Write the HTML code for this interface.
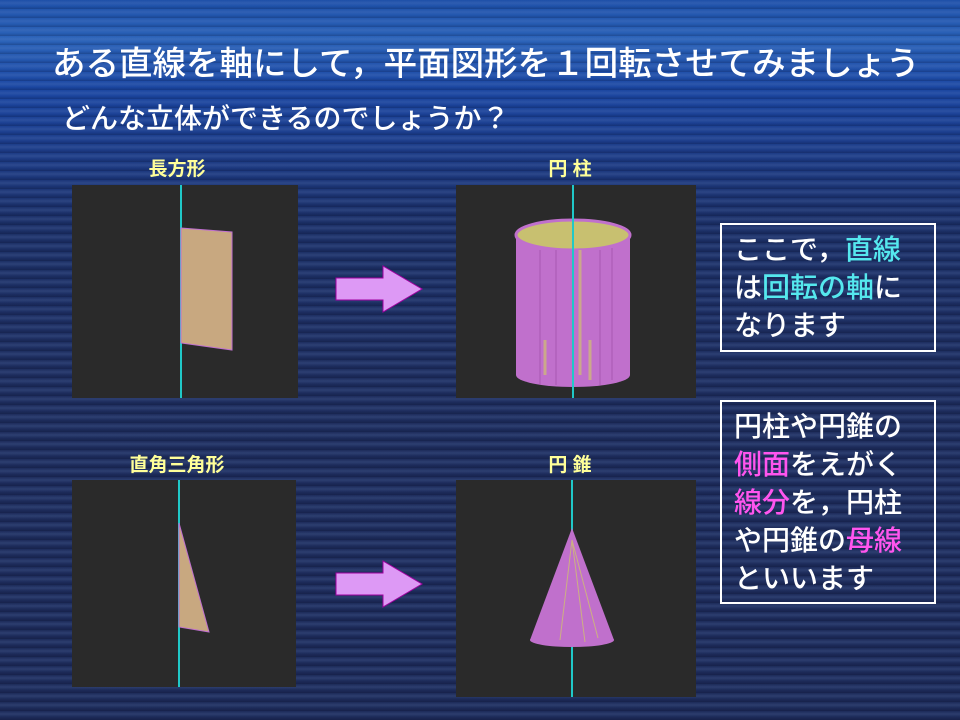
<!DOCTYPE html>
<html><head><meta charset="utf-8"><style>
html,body{margin:0;padding:0}
body{width:960px;height:720px;position:relative;overflow:hidden;font-family:"Liberation Sans","Noto Sans CJK JP",sans-serif;
background:
repeating-linear-gradient(180deg,rgba(255,255,255,0.0) 0px,rgba(120,150,210,0.18) 3px,rgba(0,0,0,0.0) 6px,rgba(0,0,20,0.2) 9px),
linear-gradient(180deg,#1d4fa8 0px,#2a62b8 40px,#1a45a0 90px,#1c3b86 150px,#1b2f66 220px,#1d2c5c 400px,#1c2a58 720px);}
.t{position:absolute;color:#fff;white-space:nowrap;font-weight:500}
.y{position:absolute;color:#ffff99;font-size:19px;font-weight:bold;white-space:nowrap;transform:translateX(-50%)}
.box{position:absolute;border:2px solid #fff;box-sizing:border-box;color:#fff;font-size:28px;line-height:38px;padding:6px 0 0 12px;font-weight:500}
.c{color:#55e8ee}.m{color:#ff55ee}
svg{position:absolute;left:0;top:0}
</style></head><body>
<div class="t" style="left:52px;top:36px;font-size:33.5px;">ある直線を軸にして，平面図形を１回転させてみましょう</div>
<div class="t" style="left:62px;top:97px;font-size:28px;">どんな立体ができるのでしょうか？</div>
<div class="y" style="left:177px;top:154px;">長方形</div>
<div class="y" style="left:570px;top:154px;">円 柱</div>
<div class="y" style="left:177px;top:450px;">直角三角形</div>
<div class="y" style="left:570px;top:450px;">円 錐</div>
<svg width="960" height="720">
<rect x="72" y="185" width="226" height="213" fill="#2a2a2a"/>
<rect x="456" y="185" width="240" height="213" fill="#2a2a2a"/>
<rect x="72" y="480" width="224" height="207" fill="#2a2a2a"/>
<rect x="456" y="480" width="240" height="217" fill="#2a2a2a"/>
<line x1="181" y1="185" x2="181" y2="398" stroke="#20c8c8" stroke-width="2"/>
<polygon points="181,228 232,232 232,350 181,343" fill="#c8a880" stroke="#c070d0" stroke-width="1"/>
<rect x="516" y="235" width="114" height="140" fill="#c070cc"/>
<ellipse cx="573" cy="375" rx="57" ry="12" fill="#c070cc"/>
<ellipse cx="573" cy="235" rx="57" ry="15" fill="#c8c070" stroke="#c070cc" stroke-width="3"/>
<g stroke="#a050a8" stroke-width="1" opacity="0.7"><line x1="540" y1="250" x2="540" y2="385"/><line x1="556" y1="250" x2="556" y2="385"/><line x1="600" y1="250" x2="600" y2="385"/><line x1="612" y1="248" x2="612" y2="380"/></g>
<g stroke="#d0c070" stroke-width="3" opacity="0.7"><line x1="545" y1="340" x2="545" y2="375"/><line x1="590" y1="340" x2="590" y2="380"/><line x1="580" y1="250" x2="580" y2="375"/></g>
<line x1="573" y1="185" x2="573" y2="398" stroke="#20c8c8" stroke-width="2"/>
<line x1="179" y1="480" x2="179" y2="687" stroke="#20c8c8" stroke-width="2"/>
<polygon points="179,523 209,632 179,627" fill="#c8a880" stroke="#c070d0" stroke-width="1"/>
<line x1="572" y1="480" x2="572" y2="697" stroke="#20c8c8" stroke-width="2"/>
<ellipse cx="572" cy="640" rx="42" ry="7" fill="#c070cc"/>
<polygon points="572,528 614,640 530,640" fill="#c070cc"/>
<g stroke="#d0c070" stroke-width="1" opacity="0.8"><line x1="572" y1="540" x2="560" y2="640"/><line x1="572" y1="540" x2="585" y2="642"/><line x1="572" y1="540" x2="598" y2="638"/></g>
<polygon points="336,278 383,278 383,266 422,289 383,312 383,300 336,300" fill="#dd99f5" stroke="#a000a0" stroke-width="1"/>
<polygon points="336,573 383,573 383,561 422,584 383,607 383,595 336,595" fill="#dd99f5" stroke="#a000a0" stroke-width="1"/>
</svg>
<div class="box" style="left:720px;top:223px;width:216px;height:129px;">ここで，<span class="c">直線</span><br>は<span class="c">回転の軸</span>に<br>なります</div>
<div class="box" style="left:720px;top:400px;width:216px;height:204px;">円柱や円錐の<br><span class="m">側面</span>をえがく<br><span class="m">線分</span>を，円柱<br>や円錐の<span class="m">母線</span><br>といいます</div>
</body></html>
